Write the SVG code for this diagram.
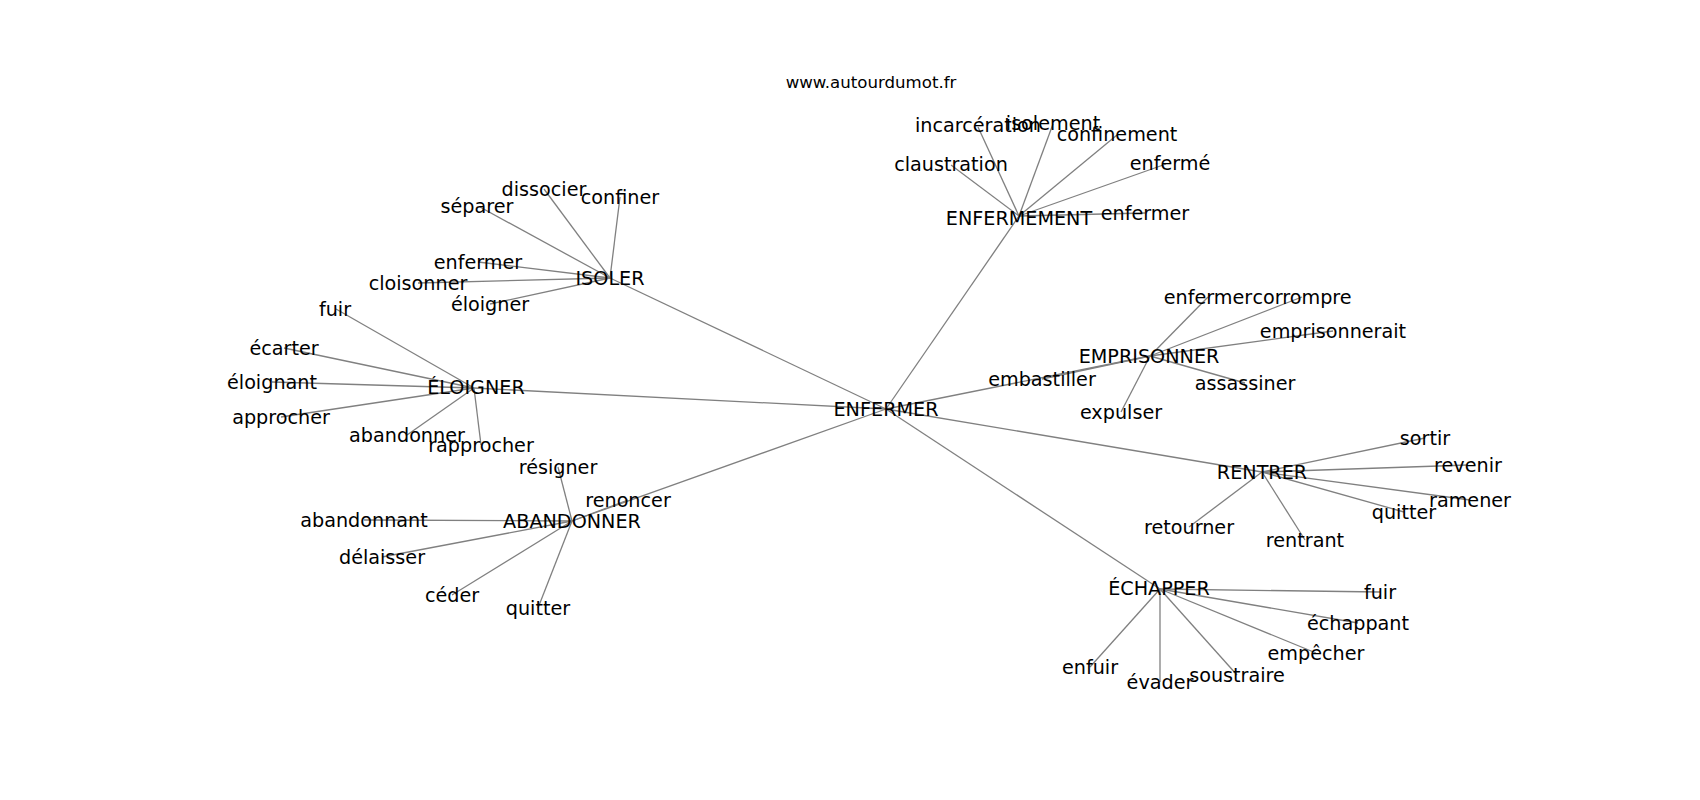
<svg xmlns="http://www.w3.org/2000/svg" width="1700" height="800" viewBox="0 0 1700 800">
<style>
.e{stroke:#808080;stroke-width:1.3;fill:none}
text{font-family:"DejaVu Sans","Liberation Sans",sans-serif;font-size:19.2px;fill:#000;text-anchor:middle}
.t{font-size:16.6px}
</style>
<rect width="1700" height="800" fill="#fff"/>
<text class="t" x="871" y="88">www.autourdumot.fr</text>
<g id="connectors">
<line class="e" x1="886" y1="409" x2="1019" y2="216"/>
<line class="e" x1="886" y1="409" x2="610" y2="278"/>
<line class="e" x1="886" y1="409" x2="474" y2="388"/>
<line class="e" x1="886" y1="409" x2="572" y2="521"/>
<line class="e" x1="886" y1="409" x2="1150" y2="356"/>
<line class="e" x1="886" y1="409" x2="1262" y2="472"/>
<line class="e" x1="886" y1="409" x2="1160" y2="589"/>
<line class="e" x1="1019" y1="216" x2="978" y2="127"/>
<line class="e" x1="1019" y1="216" x2="1053" y2="124"/>
<line class="e" x1="1019" y1="216" x2="1117" y2="135"/>
<line class="e" x1="1019" y1="216" x2="951" y2="165"/>
<line class="e" x1="1019" y1="216" x2="1166" y2="164"/>
<line class="e" x1="1019" y1="216" x2="1145" y2="213"/>
<line class="e" x1="610" y1="278" x2="544" y2="189"/>
<line class="e" x1="610" y1="278" x2="620" y2="197"/>
<line class="e" x1="610" y1="278" x2="480" y2="207"/>
<line class="e" x1="610" y1="278" x2="478" y2="262"/>
<line class="e" x1="610" y1="278" x2="418" y2="283"/>
<line class="e" x1="610" y1="278" x2="490" y2="304"/>
<line class="e" x1="474" y1="388" x2="336" y2="309"/>
<line class="e" x1="474" y1="388" x2="284" y2="348"/>
<line class="e" x1="474" y1="388" x2="272" y2="382"/>
<line class="e" x1="474" y1="388" x2="281" y2="417"/>
<line class="e" x1="474" y1="388" x2="407" y2="435"/>
<line class="e" x1="474" y1="388" x2="481" y2="445"/>
<line class="e" x1="572" y1="521" x2="558" y2="467"/>
<line class="e" x1="572" y1="521" x2="628" y2="500"/>
<line class="e" x1="572" y1="521" x2="364" y2="520"/>
<line class="e" x1="572" y1="521" x2="382" y2="557"/>
<line class="e" x1="572" y1="521" x2="452" y2="595"/>
<line class="e" x1="572" y1="521" x2="538" y2="608"/>
<line class="e" x1="1150" y1="356" x2="1208" y2="297"/>
<line class="e" x1="1150" y1="356" x2="1302" y2="297"/>
<line class="e" x1="1150" y1="356" x2="1333" y2="331"/>
<line class="e" x1="1150" y1="356" x2="1042" y2="379"/>
<line class="e" x1="1150" y1="356" x2="1245" y2="383"/>
<line class="e" x1="1150" y1="356" x2="1121" y2="412"/>
<line class="e" x1="1262" y1="472" x2="1425" y2="438"/>
<line class="e" x1="1262" y1="472" x2="1468" y2="465"/>
<line class="e" x1="1262" y1="472" x2="1470" y2="500"/>
<line class="e" x1="1262" y1="472" x2="1404" y2="512"/>
<line class="e" x1="1262" y1="472" x2="1189" y2="527"/>
<line class="e" x1="1262" y1="472" x2="1305" y2="540"/>
<line class="e" x1="1160" y1="589" x2="1380" y2="592"/>
<line class="e" x1="1160" y1="589" x2="1358" y2="623"/>
<line class="e" x1="1160" y1="589" x2="1316" y2="653"/>
<line class="e" x1="1160" y1="589" x2="1090" y2="667"/>
<line class="e" x1="1160" y1="589" x2="1160" y2="682"/>
<line class="e" x1="1160" y1="589" x2="1237" y2="675"/>
</g>
<g id="n-enfermer-hub"><text x="886" y="416">ENFERMER</text></g>
<g id="n-enfermement"><text x="1019" y="224.5">ENFERMEMENT</text></g>
<g id="n-incarceration"><text x="978" y="131.5">incarcération</text></g>
<g id="n-isolement"><text x="1053" y="130">isolement</text></g>
<g id="n-confinement"><text x="1117" y="141">confinement</text></g>
<g id="n-claustration"><text x="951" y="171">claustration</text></g>
<g id="n-enferme"><text x="1170" y="170">enfermé</text></g>
<g id="n-enfermer-1"><text x="1145" y="220">enfermer</text></g>
<g id="n-isoler"><text x="610" y="285">ISOLER</text></g>
<g id="n-dissocier"><text x="544" y="195.5">dissocier</text></g>
<g id="n-confiner"><text x="620" y="204">confiner</text></g>
<g id="n-separer"><text x="477" y="212.5">séparer</text></g>
<g id="n-enfermer-2"><text x="478" y="268.5">enfermer</text></g>
<g id="n-cloisonner"><text x="418" y="290">cloisonner</text></g>
<g id="n-eloigner-1"><text x="490" y="311">éloigner</text></g>
<g id="n-eloigner-hub"><text x="476" y="394">ÉLOIGNER</text></g>
<g id="n-fuir-1"><text x="335" y="315.5">fuir</text></g>
<g id="n-ecarter"><text x="284" y="354.5">écarter</text></g>
<g id="n-eloignant"><text x="272" y="388.5">éloignant</text></g>
<g id="n-approcher"><text x="281" y="424">approcher</text></g>
<g id="n-abandonner"><text x="407" y="442">abandonner</text></g>
<g id="n-rapprocher"><text x="481" y="452">rapprocher</text></g>
<g id="n-abandonner-hub"><text x="572" y="527.5">ABANDONNER</text></g>
<g id="n-resigner"><text x="558" y="474">résigner</text></g>
<g id="n-renoncer"><text x="628" y="507">renoncer</text></g>
<g id="n-abandonnant"><text x="364" y="527">abandonnant</text></g>
<g id="n-delaisser"><text x="382" y="564">délaisser</text></g>
<g id="n-ceder"><text x="452" y="602">céder</text></g>
<g id="n-quitter-1"><text x="538" y="615">quitter</text></g>
<g id="n-emprisonner"><text x="1149" y="362.5">EMPRISONNER</text></g>
<g id="n-enfermer-3"><text x="1208" y="304">enfermer</text></g>
<g id="n-corrompre"><text x="1302" y="304">corrompre</text></g>
<g id="n-emprisonnerait"><text x="1333" y="338">emprisonnerait</text></g>
<g id="n-embastiller"><text x="1042" y="386">embastiller</text></g>
<g id="n-assassiner"><text x="1245" y="390">assassiner</text></g>
<g id="n-expulser"><text x="1121" y="419">expulser</text></g>
<g id="n-rentrer"><text x="1262" y="479">RENTRER</text></g>
<g id="n-sortir"><text x="1425" y="445">sortir</text></g>
<g id="n-revenir"><text x="1468" y="472">revenir</text></g>
<g id="n-ramener"><text x="1470" y="507">ramener</text></g>
<g id="n-quitter-2"><text x="1404" y="519">quitter</text></g>
<g id="n-retourner"><text x="1189" y="534">retourner</text></g>
<g id="n-rentrant"><text x="1305" y="547">rentrant</text></g>
<g id="n-echapper"><text x="1159" y="595">ÉCHAPPER</text></g>
<g id="n-fuir-2"><text x="1380" y="599">fuir</text></g>
<g id="n-echappant"><text x="1358" y="630">échappant</text></g>
<g id="n-empecher"><text x="1316" y="660">empêcher</text></g>
<g id="n-enfuir"><text x="1090" y="674">enfuir</text></g>
<g id="n-evader"><text x="1160" y="689">évader</text></g>
<g id="n-soustraire"><text x="1237" y="682">soustraire</text></g>
</svg>
